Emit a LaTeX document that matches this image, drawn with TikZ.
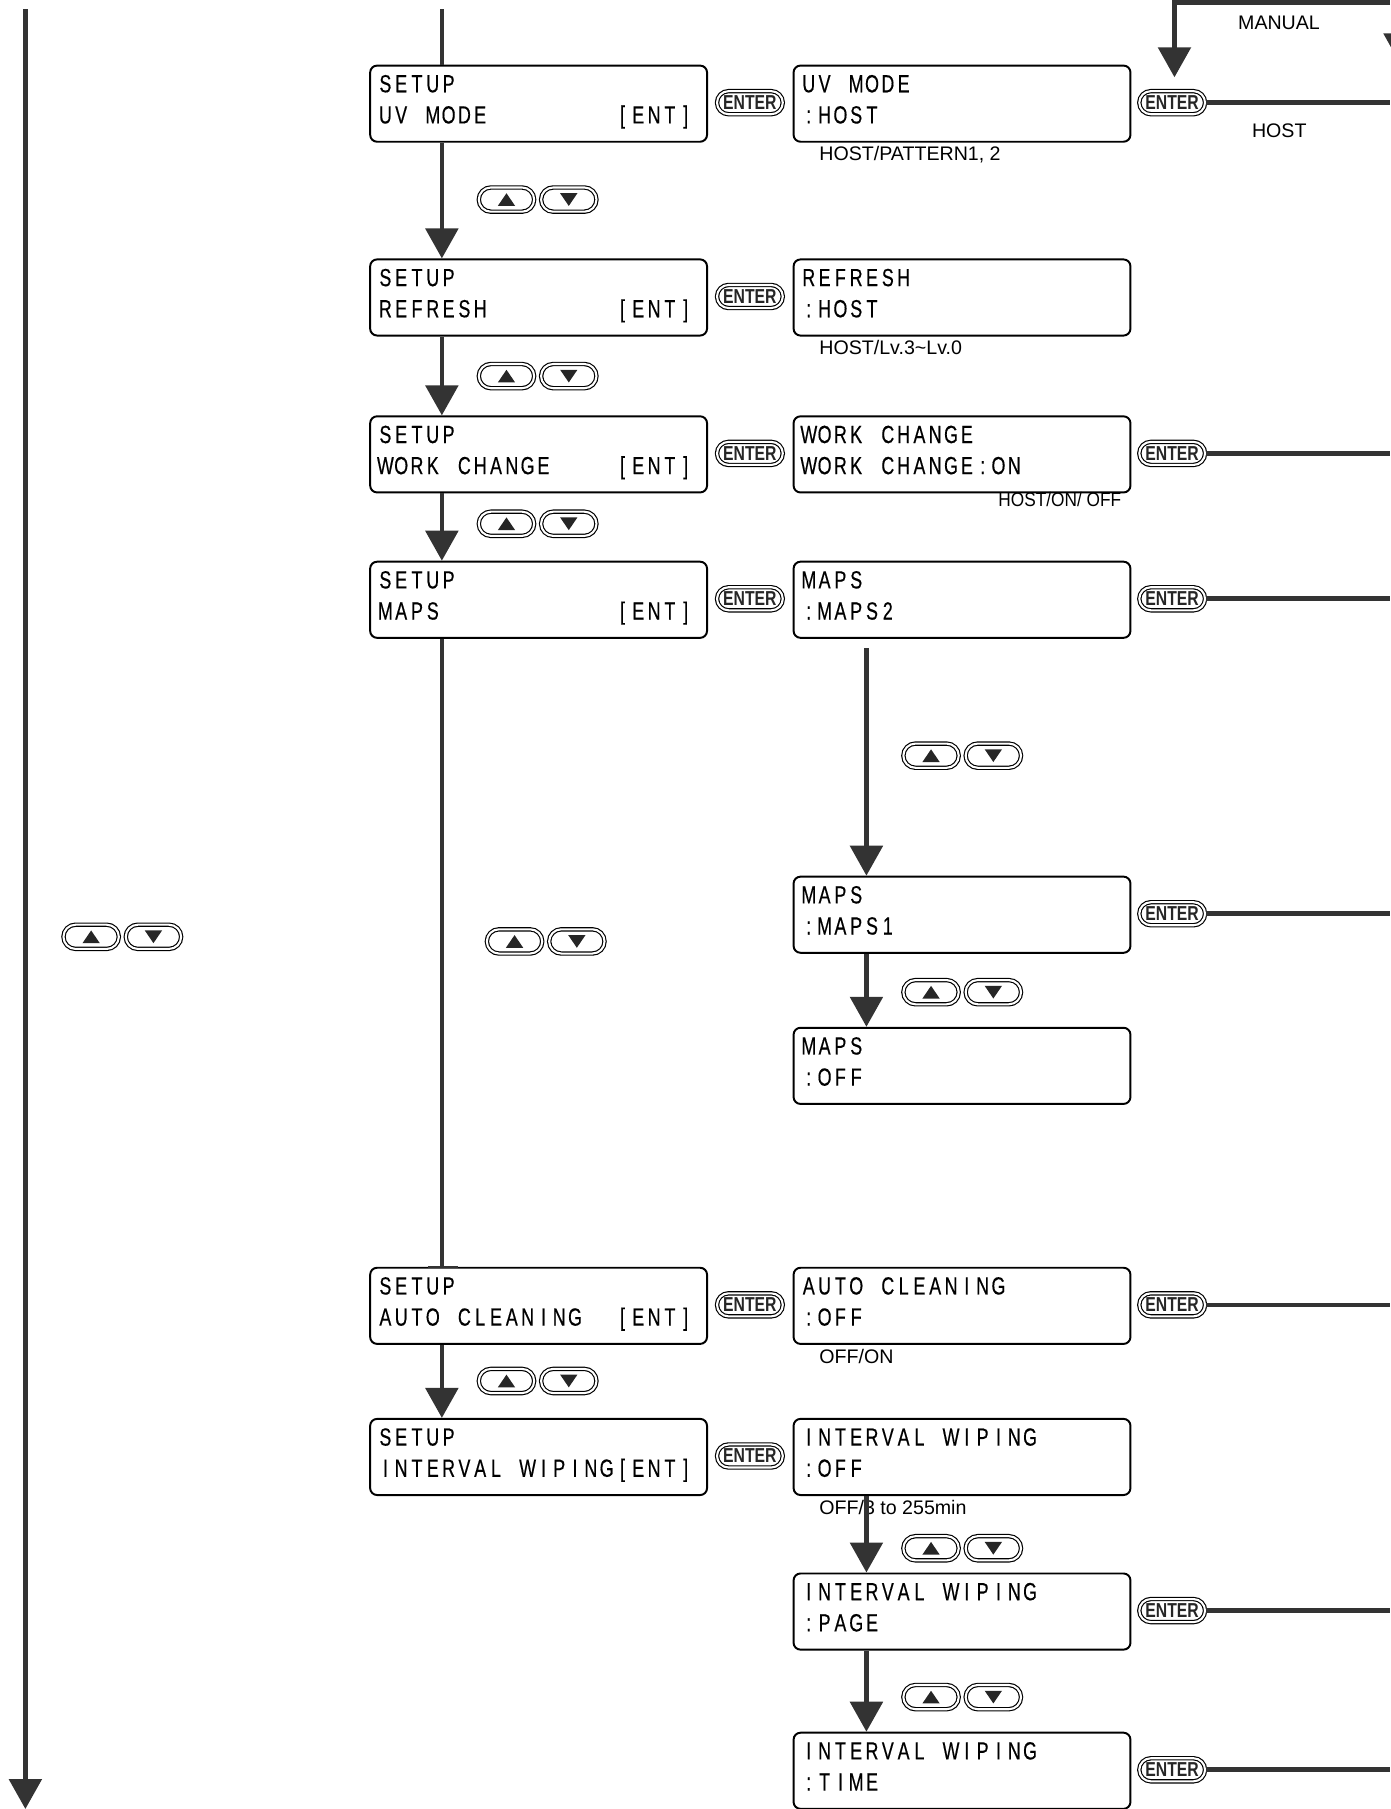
\documentclass[tikz,border=0pt]{standalone}
\usepackage{fontspec}
\setmainfont{Liberation Sans}
\newfontfamily\lcdfont{Liberation Sans}[FakeStretch=0.72,FakeBold=0.4]
\newfontfamily\entfont{Liberation Sans}[FakeStretch=0.78]
\newfontfamily\narrowfont{Liberation Sans}[FakeStretch=0.88]
\usetikzlibrary{arrows.meta,shapes.misc}
\definecolor{ln}{gray}{0.2}
\ExplSyntaxOn
\dim_new:N \l_lcdpitch_dim
\dim_set:Nn \l_lcdpitch_dim {13.7pt}
\NewDocumentCommand \lcd { m }
 {
  \str_map_inline:nn {#1}
   {
    \makebox[\l_lcdpitch_dim]{ \str_if_eq:nnF {##1} {_} {##1} }
   }
 }
\ExplSyntaxOff
\newcommand\lcdbox[5]{%
  \node[lcdbox] (#1) at (#2,#3) {};
  \node[lcdtext] (#1a) at ([xshift=7pt,yshift=-24pt]#1.north west) {\lcd{#4}};
  \node[lcdtext] (#1b) at ([xshift=7pt,yshift=-51pt]#1.north west) {\lcd{#5}};
}
\newcommand\udkeys[3]{%
  \node[arrkey] (#1u) at (#2,#3) {};
  \node[arrkey] (#1d) at ({#2+54},#3) {};
  \fill[black!85] ([yshift=5.5pt]#1u.center) -- ([xshift=-7.5pt,yshift=-5.5pt]#1u.center) -- ([xshift=7.5pt,yshift=-5.5pt]#1u.center) -- cycle;
  \fill[black!85] ([yshift=-5.5pt]#1d.center) -- ([xshift=-7.5pt,yshift=5.5pt]#1d.center) -- ([xshift=7.5pt,yshift=5.5pt]#1d.center) -- cycle;
}
\begin{document}
\begin{tikzpicture}[x=1pt,y=-1pt,
  conn/.style={draw=ln,line width=4pt},
  arr/.style={conn,-{Triangle[width=28pt,length=26pt]}},
  lcdbox/.style={draw=black,line width=1.7pt,rounded corners=6pt,minimum width=292pt,minimum height=66pt,inner sep=0pt,anchor=north west},
  lcdtext/.style={inner sep=0pt,anchor=base west,text=black,font=\lcdfont\fontsize{21.5}{21.5}\selectfont},
  enterkey/.style={rounded rectangle,draw=black,double=white,double distance=1.8pt,line width=1pt,minimum width=57pt,minimum height=20pt,inner sep=0pt,text=black!85,font=\entfont\bfseries\fontsize{17.5}{17.5}\selectfont},
  arrkey/.style={rounded rectangle,draw=black,double=white,double distance=1.8pt,line width=1pt,minimum width=48pt,minimum height=21pt,inner sep=0pt},
  lab/.style={inner sep=0pt,anchor=base west,text=black,font=\fontsize{17}{17}\selectfont}
]
\useasboundingbox (0,0) rectangle (1205,1568);

% ---- left column boxes (SETUP)
\lcdbox{s1}{320}{56}{SETUP}{UV_MODE________[ENT]}
\lcdbox{s2}{320}{224}{SETUP}{REFRESH________[ENT]}
\lcdbox{s3}{320}{360}{SETUP}{WORK_CHANGE____[ENT]}
\lcdbox{s4}{320}{486}{SETUP}{MAPS___________[ENT]}
\lcdbox{s5}{320}{1098}{SETUP}{AUTO_CLEANING__[ENT]}
\lcdbox{s6}{320}{1229}{SETUP}{INTERVAL_WIPING[ENT]}

% ---- right column boxes
\lcdbox{v1}{687}{56}{UV_MODE}{:HOST}
\lcdbox{v2}{687}{224}{REFRESH}{:HOST}
\lcdbox{v3}{687}{360}{WORK_CHANGE}{WORK_CHANGE:ON}
\lcdbox{v4}{687}{486}{MAPS}{:MAPS2}
\lcdbox{v5}{687}{759}{MAPS}{:MAPS1}
\lcdbox{v6}{687}{890}{MAPS}{:OFF}
\lcdbox{v7}{687}{1098}{AUTO_CLEANING}{:OFF}
\lcdbox{v8}{687}{1229}{INTERVAL_WIPING}{:OFF}
\lcdbox{v9}{687}{1363}{INTERVAL_WIPING}{:PAGE}
\lcdbox{v10}{687}{1501}{INTERVAL_WIPING}{:TIME}

% ---- ENTER keys between columns
\node[enterkey] (e1) at (650,89) {ENTER};
\node[enterkey] (e2) at (650,257) {ENTER};
\node[enterkey] (e3) at (650,393) {ENTER};
\node[enterkey] (e4) at (650,519) {ENTER};
\node[enterkey] (e5) at (650,1131) {ENTER};
\node[enterkey] (e6) at (650,1262) {ENTER};

% ---- ENTER keys right of right column
\node[enterkey] (r1) at (1016,89) {ENTER};
\node[enterkey] (r2) at (1016,393) {ENTER};
\node[enterkey] (r3) at (1016,519) {ENTER};
\node[enterkey] (r4) at (1016,792) {ENTER};
\node[enterkey] (r5) at (1016,1131) {ENTER};
\node[enterkey] (r6) at (1016,1396) {ENTER};
\node[enterkey] (r7) at (1016,1534) {ENTER};

\coordinate (x1) at (1205,89);
\coordinate (x2) at (1205,393);
\coordinate (x3) at (1205,519);
\coordinate (x4) at (1205,792);
\coordinate (x5) at (1205,1131);
\coordinate (x6) at (1205,1396);
\coordinate (x7) at (1205,1534);
\foreach \i in {1,...,7} {\draw[conn] (r\i.east) -- (x\i);}

% ---- top right loop
\coordinate (t0) at (1205,2);
\coordinate (t1) at (1018,2);
\coordinate (t2) at (1018,67);
\draw[arr] (t0) -- (t1) -- (t2);
\fill[ln] (1199,29) -- (1227,29) -- (1213,54) -- cycle;
\node[lab] (man) at (1073,26) {MANUAL};
\node[lab] (hst) at (1085,119) {HOST};

% ---- labels under boxes
\node[lab] (l1) at (710,139) {HOST/PATTERN1, 2};
\node[lab] (l2) at (710,307) {HOST/Lv.3\char"7E Lv.0};
\node[lab,anchor=base east,font=\narrowfont\fontsize{17}{17}\selectfont] (l3) at (972,439) {HOST/ON/ OFF};
\node[lab] (l4) at (710,1182) {OFF/ON};
\node[lab] (l5) at (710,1313) {OFF/3 to 255min};

% ---- left long arrow
\coordinate (L0) at (22,8);
\coordinate (L1) at (22,1568);
\draw[arr] (L0) -- (L1);
\udkeys{k0}{79}{812}

% ---- main column connectors
\coordinate (M0) at (383,8);
\draw[conn] (M0) -- ([xshift=63pt]s1.north west);
\draw[arr] ([xshift=63pt]s1.south west) -- ([xshift=63pt]s2.north west);
\draw[arr] ([xshift=63pt]s2.south west) -- ([xshift=63pt]s3.north west);
\draw[arr] ([xshift=63pt]s3.south west) -- ([xshift=63pt]s4.north west);
\draw[conn] ([xshift=63pt]s4.south west) -- ([xshift=63pt]s5.north west);
\draw[ln,line width=2pt] ([xshift=51pt]s5.north west) -- ([xshift=77pt]s5.north west);
\draw[arr] ([xshift=63pt]s5.south west) -- ([xshift=63pt]s6.north west);
\udkeys{k1}{439}{173}
\udkeys{k2}{439}{326}
\udkeys{k3}{439}{454}
\udkeys{k4}{446}{816}
\udkeys{k5}{439}{1197}

% ---- right column connectors
\draw[arr] ([xshift=64pt,yshift=-8pt]v4.south west) -- ([xshift=64pt]v5.north west);
\draw[arr] ([xshift=64pt]v5.south west) -- ([xshift=64pt]v6.north west);
\draw[arr] ([xshift=64pt]v8.south west) -- ([xshift=64pt]v9.north west);
\draw[arr] ([xshift=64pt]v9.south west) -- ([xshift=64pt]v10.north west);
\udkeys{k6}{807}{655}
\udkeys{k7}{807}{860}
\udkeys{k8}{807}{1342}
\udkeys{k9}{807}{1471}
\end{tikzpicture}
\end{document}
